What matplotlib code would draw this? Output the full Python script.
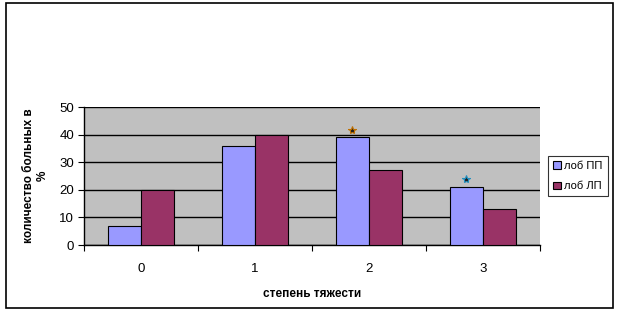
import numpy as np
import matplotlib.pyplot as plt
from matplotlib.patches import Rectangle

plt.rcParams['font.family'] = ['Liberation Sans', 'DejaVu Sans']

categories = ['0', '1', '2', '3']
lob_pp = [7, 36, 39, 21]
lob_lp = [20, 40, 27, 13]
star_groups = [2, 3]
star_values = [41.5, 24]
star_colors = ['#c07000', '#2090c0']

fig = plt.figure(figsize=(6.2, 3.13), dpi=100)
fig.patches.append(Rectangle((6 / 620, 1 - 308 / 313), 607 / 620, 305 / 313,
                             transform=fig.transFigure, fill=False,
                             edgecolor='black', linewidth=1.2))

ax = fig.add_axes([84 / 620, 1 - 245 / 313, 456 / 620, 138 / 313])
ax.set_facecolor('#c0c0c0')

x = np.arange(len(categories))
w = 0.29
ax.bar(x - w / 2, lob_pp, w, color='#9999ff', edgecolor='black', linewidth=0.8,
       label='лоб ПП', zorder=3)
ax.bar(x + w / 2, lob_lp, w, color='#993366', edgecolor='black', linewidth=0.8,
       label='лоб ЛП', zorder=3)

for g, v, c in zip(star_groups, star_values, star_colors):
    ax.plot(g - w / 2, v, marker='*', markersize=6, color='#202020',
            markeredgecolor=c, markeredgewidth=0.8, linestyle='none', zorder=4)

ax.set_xlim(-0.5, 3.5)
ax.set_ylim(0, 50)
ax.set_yticks(range(0, 51, 10))
ax.yaxis.grid(True, color='black', linewidth=1)
ax.set_axisbelow(True)

ax.set_xticks(np.arange(-0.5, 3.6, 1))
ax.set_xticklabels([])
ax.set_xticks(x, minor=True)
ax.set_xticklabels(categories, minor=True)
ax.tick_params(axis='x', which='minor', length=0, pad=13, labelsize=9.5)
ax.tick_params(axis='x', which='major', length=4, direction='out')
ax.tick_params(axis='y', length=4, labelsize=9.5, pad=3)

for s in ['top', 'right']:
    ax.spines[s].set_visible(False)
ax.spines['left'].set_linewidth(1)
ax.spines['bottom'].set_linewidth(1)

ax.set_xlabel('степень тяжести', fontsize=8.5, fontweight='bold', labelpad=9)
ax.set_ylabel('количество больных в\n%', fontsize=8.5, fontweight='bold',
              labelpad=8, linespacing=1.1)

leg = ax.legend(loc='center left', bbox_to_anchor=(1.018, 0.5), fontsize=8,
                frameon=True, fancybox=False, edgecolor='black',
                handlelength=0.7, handleheight=0.7, handletextpad=0.3,
                borderpad=0.45, labelspacing=0.95, borderaxespad=0)
leg.get_frame().set_linewidth(0.8)

fig.savefig('out.png', dpi=100)
